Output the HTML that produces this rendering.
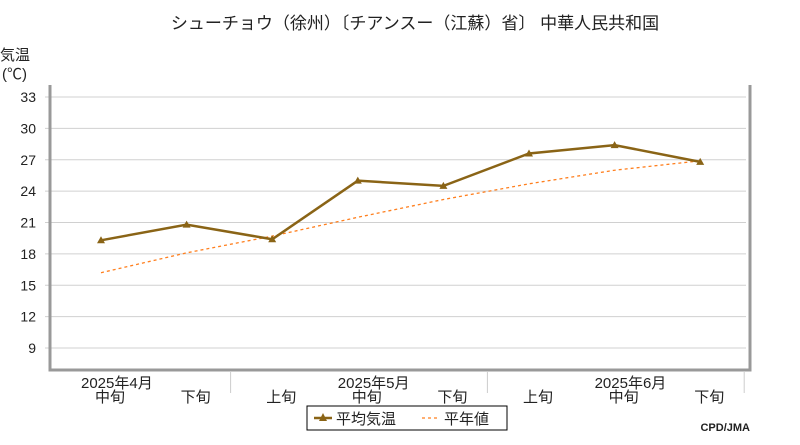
<!DOCTYPE html>
<html><head><meta charset="utf-8"><style>
body{margin:0;background:#fff;width:800px;height:440px;overflow:hidden;font-family:"Liberation Sans","Noto Sans CJK JP",sans-serif}
svg text{font-family:"Liberation Sans","Noto Sans CJK JP",sans-serif}
</style></head><body>
<svg width="800" height="440">
<text x="415" y="29" font-size="17" text-anchor="middle" fill="#222">シューチョウ（徐州）〔チアンスー（江蘇）省〕 中華人民共和国</text>
<text x="0" y="60" font-size="15" fill="#222">気温</text>
<text x="2" y="79" font-size="15" fill="#222">(℃)</text>
<g id="grid"></g>
<path d="M50,85 V370 H750 V85" fill="none" stroke="#999" stroke-width="3"/>
<g id="xax"></g>
<polyline id="normal" fill="none" stroke="#ff7f1e" stroke-width="1.3" stroke-dasharray="3,3"/>
<polyline id="avg" fill="none" stroke="#8a6416" stroke-width="2.5"/>
<g id="pts"></g>
<rect x="307" y="406" width="200" height="24" fill="#fff" stroke="#000"/>
<g><line x1="314" y1="418" x2="332" y2="418" stroke="#8a6416" stroke-width="2.5"/><polygon points="323,413 319,421 327,421" fill="#8a6416"/><text x="336" y="424" font-size="15" fill="#222">平均気温</text></g>
<g><line x1="422" y1="418" x2="440" y2="418" stroke="#ff7f1e" stroke-width="1.3" stroke-dasharray="3,3"/><text x="444" y="424" font-size="15" fill="#222">平年値</text></g>
<text x="750" y="431" font-size="11" font-weight="bold" text-anchor="end" fill="#222" font-family="Liberation Mono">CPD/JMA</text>
</svg>
<script>
const yTicks=[9,12,15,18,21,24,27,30,33];
const periods=["中旬","下旬","上旬","中旬","下旬","上旬","中旬","下旬"];
const months=["2025年4月","2025年5月","2025年6月"];
const avgTemp=[19.3,20.8,19.4,25.0,24.5,27.6,28.4,26.8];
const normalTemp=[16.2,18.1,19.7,21.5,23.2,24.7,26.0,26.9];
const NS="http://www.w3.org/2000/svg";
function y(v){return 97+(33-v)*10.46;}
function x(i){return 101+85.6*i;}
function mk(t,a,p){const e=document.createElementNS(NS,t);for(const k in a)e.setAttribute(k,a[k]);p.appendChild(e);return e;}
const g=document.getElementById('grid');
yTicks.forEach(v=>{
const l=mk('line',{x1:45,x2:746,y1:y(v),y2:y(v),stroke:'#d0d0d0'},g);


const t=mk('text',{x:36,y:y(v)+5,'font-size':14,'text-anchor':'end',fill:'#222'},g);t.textContent=v;


});
const xa=document.getElementById('xax');
periods.forEach((p,i)=>{
const t=mk('text',{x:x(i)+9,y:402,'font-size':15,'text-anchor':'middle',fill:'#222'},xa);t.textContent=p;


});
months.forEach((m,j)=>{
const t=mk('text',{x:x(j*3)-20,y:388,'font-size':15,'text-anchor':'start',fill:'#222'},xa);t.textContent=m;


const s=mk('line',{x1:x(j*3+1)+44,x2:x(j*3+1)+44,y1:372,y2:393,stroke:'#ccc'},xa);


});
document.getElementById('normal').setAttribute('points',normalTemp.map((v,i)=>x(i)+','+y(v)).join(' '));
document.getElementById('avg').setAttribute('points',avgTemp.map((v,i)=>x(i)+','+y(v)).join(' '));
const pg=document.getElementById('pts');
avgTemp.forEach((v,i)=>{
const m=mk('polygon',{points:`${x(i)},${y(v)-4} ${x(i)-4},${y(v)+3} ${x(i)+4},${y(v)+3}`,fill:'#8a6416'},pg);


});
</script>
</body></html>
